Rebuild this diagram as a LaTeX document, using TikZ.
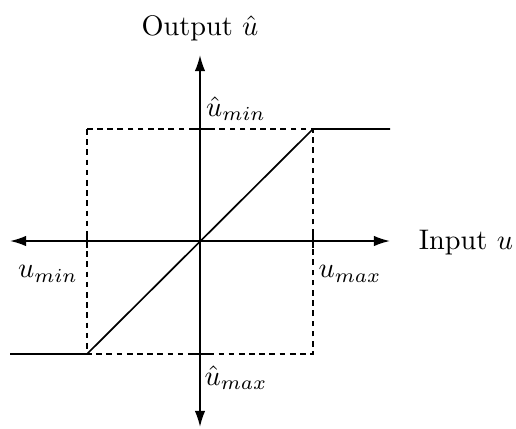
\documentclass[tikz,border=0pt]{standalone}
\usetikzlibrary{arrows.meta}

\begin{document}
\begin{tikzpicture}[x=0.01242cm,y=-0.01242cm,line width=0.6pt,>={Latex[length=2mm,width=1.3mm]},
  limit/.style={dash pattern=on 2pt off 1.6pt},
  tickmark/.style={line width=0.6pt}]
\useasboundingbox (0,0) rectangle (516,428);

% =====================
% Livelli
% =====================
\def\AxisX{200}
\def\AxisY{241}
\def\Umin{87}
\def\Umax{313}
\def\Top{129}
\def\Bot{354}

\coordinate (xl) at (10,\AxisY);
\coordinate (xr) at (390,\AxisY);
\coordinate (yt) at (\AxisX,55);
\coordinate (yb) at (\AxisX,427);
\coordinate (satl) at (10,\Bot);
\coordinate (satr) at (390,\Top);
\coordinate (lo) at (\Umin,\Bot);
\coordinate (hi) at (\Umax,\Top);

% =====================
% Assi
% =====================
\draw[<->] (xl) -- (xr);
\draw[<->] (yb) -- (yt);

% =====================
% Limiti
% =====================
\draw[limit] (\Umin,\Top) rectangle (\Umax,\Bot);

\foreach \x in {\Umin,\Umax}
  \draw[tickmark] (\x,\AxisY-7) -- (\x,\AxisY+7);
\foreach \y in {\Top,\Bot}
  \draw[tickmark] (\AxisX-11,\y) -- (\AxisX+11,\y);

% =====================
% Saturazione
% =====================
\draw (satl) -- (lo) -- (hi) -- (satr);

% =====================
% Etichette
% =====================
\node (out) at (\AxisX,28) {Output $\hat u$};
\node (in) at (466,243) {Input $u$};
\node (uhmin) at (236,109) {$\hat u_{min}$};
\node (uhmax) at (236,378) {$\hat u_{max}$};
\node (umin) at (48,274) {$u_{min}$};
\node (umax) at (350,274) {$u_{max}$};

\end{tikzpicture}
\end{document}
